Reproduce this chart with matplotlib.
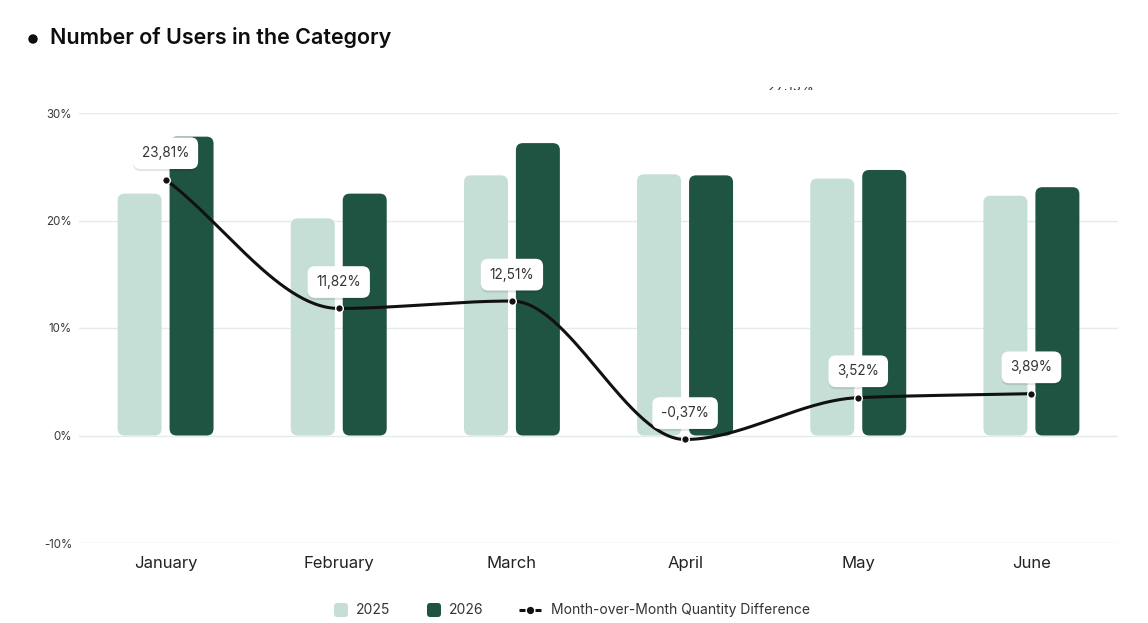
import numpy as np
import matplotlib
matplotlib.use("Agg")
import matplotlib.pyplot as plt
from matplotlib.patches import FancyBboxPatch, Circle
import matplotlib.patheffects as pe
from matplotlib.transforms import Bbox

# ---------------- data ----------------
months = ["January", "February", "March", "April", "May", "June"]
users_2025 = [22.5, 20.2, 24.2, 24.3, 23.9, 22.3]
users_2026 = [27.8, 22.5, 27.2, 24.2, 24.7, 23.1]
mom_diff = [23.81, 11.82, 12.51, -0.37, 3.52, 3.89]
y_ticks = [-10, 0, 10, 20, 30]
y_tick_labels = ["-10%", "0%", "10%", "20%", "30%"]
legend_labels = ["2025", "2026", "Month-over-Month Quantity Difference"]
title = "Number of Users in the Category"

LIGHT = "#c5dfd6"
DARK = "#1f5443"
LINE = "#111111"
FONT = ["Inter", "DejaVu Sans"]

W, H = 1148, 623
fig = plt.figure(figsize=(W / 100, H / 100), dpi=100)
fig.patch.set_facecolor("white")

ax_l, ax_r, ax_t, ax_b = 79, 1118, 113, 543
ax = fig.add_axes([ax_l / W, (H - ax_b) / H, (ax_r - ax_l) / W, (ax_b - ax_t) / H])
ax.set_xlim(-0.5, 5.5)
ax.set_ylim(-10, 30)
for s in ax.spines.values():
    s.set_visible(False)
ax.set_yticks(y_ticks)
ax.set_yticklabels(y_tick_labels, fontsize=8.3, color="#3a3a3a", family=FONT)
ax.yaxis.grid(True, color="#e4ece8", lw=1)
ax.set_axisbelow(True)
x = np.arange(len(months))
ax.set_xticks(x)
ax.set_xticklabels(months, fontsize=12, color="#222222", family=FONT)
ax.tick_params(axis="both", length=0)
ax.tick_params(axis="y", pad=5)
ax.tick_params(axis="x", pad=9.5)

# ---------------- bars (rounded) ----------------
px_per_x = (ax_r - ax_l) / 6.0
px_per_y = (ax_b - ax_t) / 40.0
aspect = (1 / px_per_y) / (1 / px_per_x)
r = 7 / px_per_x
off, bw = 0.15, 0.254
for vals, sign, col in [(users_2025, -1, LIGHT), (users_2026, 1, DARK)]:
    bars = ax.bar(x + sign * off, vals, bw, color=col)
    for b in bars:
        b.set_visible(False)
        p = FancyBboxPatch((b.get_x(), b.get_y()), b.get_width(), b.get_height(),
                           boxstyle=f"round,pad=0,rounding_size={r}",
                           mutation_aspect=aspect, fc=col, ec="none", zorder=2)
        ax.add_patch(p)

# ---------------- smooth monotone line ----------------
yv = np.array(mom_diff, dtype=float)
d = np.diff(yv)
m = np.zeros_like(yv)
m[0], m[-1] = d[0], d[-1]
for i in range(1, len(yv) - 1):
    if d[i - 1] * d[i] <= 0:
        m[i] = 0
    else:
        m[i] = 2 * d[i - 1] * d[i] / (d[i - 1] + d[i])
xs, ys = [], []
for i in range(len(yv) - 1):
    t = np.linspace(0, 1, 60)
    h00 = 2 * t**3 - 3 * t**2 + 1
    h10 = t**3 - 2 * t**2 + t
    h01 = -2 * t**3 + 3 * t**2
    h11 = t**3 - t**2
    xs.append(x[i] + t)
    ys.append(h00 * yv[i] + h10 * m[i] + h01 * yv[i + 1] + h11 * m[i + 1])
ax.plot(np.concatenate(xs), np.concatenate(ys), color=LINE, lw=2.2, zorder=4,
        solid_capstyle="round")
ax.plot(x, yv, "o", ms=5.5, mfc=LINE, mec="white", mew=1.0, zorder=5)

for i, v in enumerate(mom_diff):
    lab = f"{v:.2f}%".replace(".", ",")
    an = ax.annotate(lab, (x[i], v), xytext=(0, 19), textcoords="offset points",
                     ha="center", va="center", fontsize=9.8, color="#333333",
                     family=FONT, zorder=6,
                     bbox=dict(boxstyle="round,pad=0.65,rounding_size=0.55",
                               fc="white", ec="none"))
    an.get_bbox_patch().set_path_effects([
        pe.SimplePatchShadow(offset=(0, -1.5), shadow_rgbFace="black", alpha=0.10),
        pe.Normal()])

# ---------------- overlay (title, legend) ----------------
ov = fig.add_axes([0, 0, 1, 1], zorder=10)
ov.set_xlim(0, W)
ov.set_ylim(H, 0)
ov.axis("off")

ov.add_patch(Circle((33, 39), 4, color="#0d0d0d"))
ov.text(50, 38, title, fontsize=15.5, fontweight="semibold", va="center", ha="left",
        color="#0d0d0d", family=FONT)

# clipped stray label at the top
t = ov.text(791, 91, "27,15%", ha="center", va="baseline", fontsize=9.5,
            color="#333333", family=FONT)
t.set_clip_on(True)
t.set_clip_box(Bbox.from_extents(0, H - 89.5, W, H - 86.5))

ly = 610
ov.add_patch(FancyBboxPatch((334, ly - 7), 14, 14, boxstyle="round,pad=0,rounding_size=3",
                            fc=LIGHT, ec="none"))
ov.text(356, ly, legend_labels[0], fontsize=10, va="center", ha="left", color="#333333", family=FONT)
ov.add_patch(FancyBboxPatch((427, ly - 7), 14, 14, boxstyle="round,pad=0,rounding_size=3",
                            fc=DARK, ec="none"))
ov.text(449, ly, legend_labels[1], fontsize=10, va="center", ha="left", color="#333333", family=FONT)
ov.plot([519, 524.5], [ly, ly], color=LINE, lw=2.2, solid_capstyle="butt")
ov.plot([534.5, 541], [ly, ly], color=LINE, lw=2.2, solid_capstyle="butt")
ov.plot([529.5], [ly], "o", ms=4.2, color=LINE)
ov.text(551, ly, legend_labels[2], fontsize=10, va="center", ha="left", color="#333333", family=FONT)

fig.savefig("out.png", dpi=100, facecolor="white")
